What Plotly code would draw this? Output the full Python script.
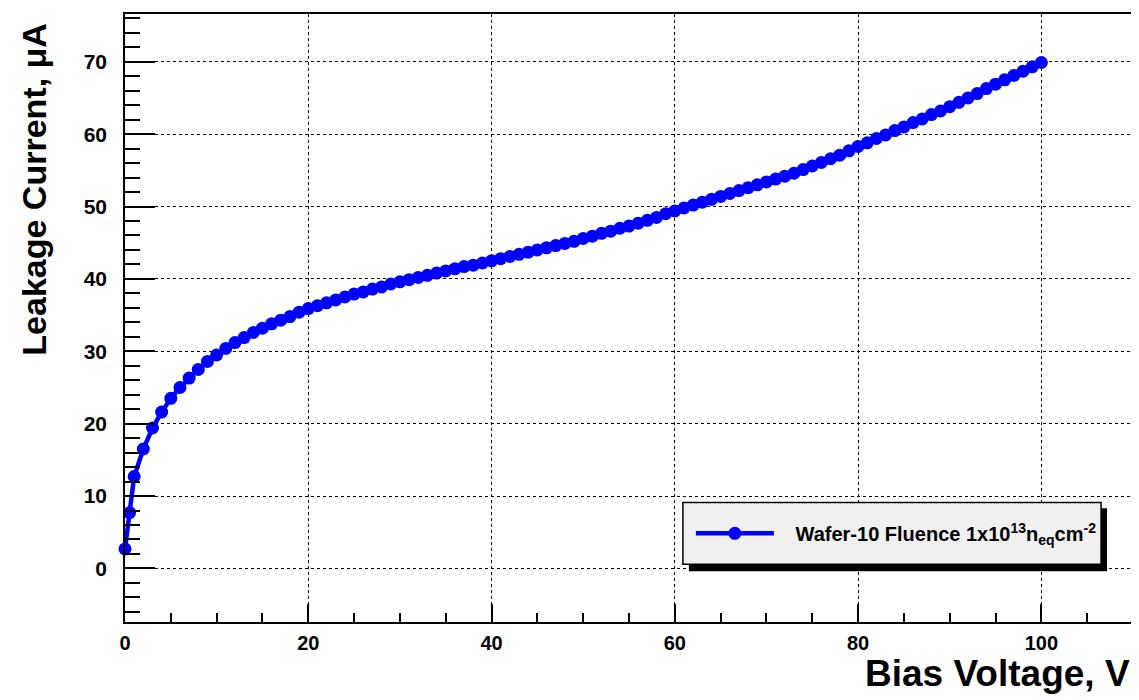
import plotly.graph_objects as go

# Bias voltage (V) and leakage current (uA)
voltage = [0, 0.5] + list(range(1, 101))
current = [
    2.7, 7.7, 12.7, 16.5, 19.4, 21.6, 23.5, 25.0, 26.3, 27.5, 28.6,
    29.5, 30.4, 31.2, 31.9, 32.6, 33.2, 33.8, 34.3, 34.8, 35.4,
    35.9, 36.3, 36.7, 37.1, 37.5, 37.9, 38.2, 38.6, 38.9, 39.3,
    39.6, 39.9, 40.2, 40.5, 40.8, 41.1, 41.4, 41.7, 41.9, 42.2,
    42.5, 42.8, 43.1, 43.4, 43.7, 44.0, 44.3, 44.6, 44.9, 45.2,
    45.6, 45.9, 46.3, 46.6, 47.0, 47.3, 47.7, 48.1, 48.5, 49.0,
    49.4, 49.8, 50.2, 50.6, 51.0, 51.4, 51.8, 52.2, 52.6, 53.0,
    53.4, 53.8, 54.2, 54.6, 55.1, 55.6, 56.1, 56.6, 57.1, 57.7,
    58.3, 58.8, 59.4, 59.9, 60.5, 61.0, 61.6, 62.1, 62.7, 63.2,
    63.8, 64.4, 65.0, 65.6, 66.3, 66.9, 67.5, 68.1, 68.7, 69.3,
    69.9,
]
series_name = "\u00a0\u00a0\u00a0Wafer-10 Fluence 1x10<sup>13</sup>n<sub>eq</sub>cm<sup>-2</sup>"
x_title = "Bias Voltage, V"
y_title = "Leakage Current, \u03bcA"

FONT = "Liberation Sans, Arial, Helvetica, sans-serif"

fig = go.Figure()
fig.add_trace(go.Scatter(
    x=voltage, y=current, mode="lines+markers", name=series_name,
    line=dict(color="#0000ff", width=4.5),
    marker=dict(color="#0000ff", size=13, symbol="circle"),
    cliponaxis=False,
))

# page body has an 8px margin; target pixel positions are for the window
OFF = 8
W, H = 1139 - OFF, 700 - OFF
L, R, T, B = 125 - OFF, 4, 12 - OFF, 78
pw, ph = W - L - R, H - T - B

def px(p):
    return (p - OFF - L) / pw

def py(p):
    return (H - B - (p - OFF)) / ph

shapes = [
    # legend shadow
    dict(type="rect", xref="paper", yref="paper",
         x0=px(690), x1=px(1109), y0=py(571), y1=py(508),
         fillcolor="black", line=dict(width=0), layer="above"),
    # legend box
    dict(type="rect", xref="paper", yref="paper",
         x0=px(684), x1=px(1103), y0=py(564), y1=py(502),
         fillcolor="#f0f0f0", line=dict(color="black", width=1.5), layer="above"),
]

fig.update_layout(
    width=W, height=H,
    margin=dict(l=L, r=R, t=T, b=B),
    paper_bgcolor="white", plot_bgcolor="white",
    font=dict(family=FONT, color="black"),
    shapes=shapes,
    showlegend=True,
    legend=dict(
        x=px(692), y=py(533), xanchor="left", yanchor="middle",
        bgcolor="rgba(0,0,0,0)", borderwidth=0,
        font=dict(family=FONT, size=20, color="black", weight="bold"),
        itemwidth=78,
    ),
    annotations=[
        dict(text=x_title, xref="paper", yref="paper",
             x=px(1134), y=py(674), xanchor="right", yanchor="middle",
             showarrow=False,
             font=dict(family=FONT, size=37, color="black", weight="bold")),
        dict(text=y_title, xref="paper", yref="paper",
             x=px(34), y=py(19), xanchor="center", yanchor="top",
             textangle=-90, showarrow=False,
             font=dict(family=FONT, size=34, color="black", weight="bold")),
    ],
)

fig.update_xaxes(
    range=[0, 110], tick0=0, dtick=20,
    showline=True, linecolor="black", linewidth=1.5, mirror=True,
    ticks="inside", ticklen=18, tickwidth=1.5, tickcolor="black",
    ticklabelstandoff=2,
    tickfont=dict(family=FONT, size=20, color="black", weight="bold"),
    showgrid=True, gridcolor="black", griddash="dot", gridwidth=1,
    zeroline=False,
    minor=dict(dtick=5, ticks="inside", ticklen=9, tickwidth=1.5,
               tickcolor="black", showgrid=False),
)
fig.update_yaxes(
    range=[-7.4, 76.6], tick0=0, dtick=10,
    showline=True, linecolor="black", linewidth=1.5, mirror=True,
    ticks="inside", ticklen=30, tickwidth=1.5, tickcolor="black",
    ticklabelstandoff=12,
    tickfont=dict(family=FONT, size=21, color="black", weight="bold"),
    showgrid=True, gridcolor="black", griddash="dot", gridwidth=1,
    zeroline=False,
    minor=dict(dtick=2, ticks="inside", ticklen=15, tickwidth=1.5,
               tickcolor="black", showgrid=False),
)

fig.write_html("out.html")
